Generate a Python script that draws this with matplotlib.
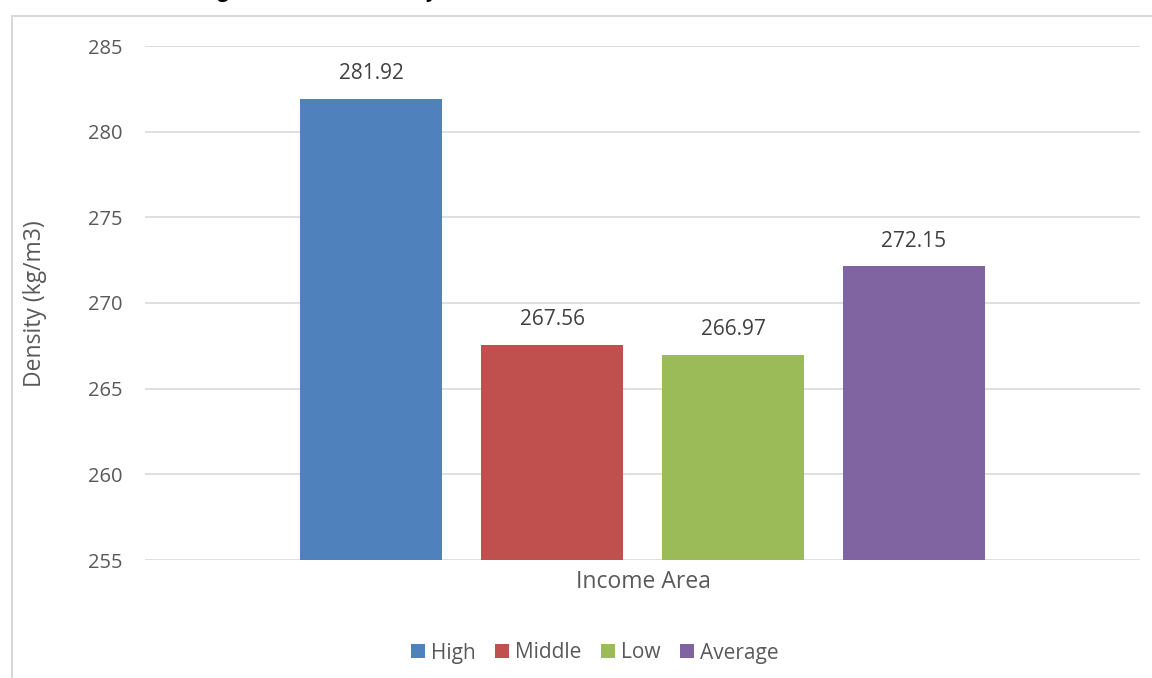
import matplotlib
matplotlib.use("Agg")
import matplotlib.pyplot as plt
from matplotlib.patches import Rectangle, Patch

# Data
categories = ["Income Area"]
series_names = ["High", "Middle", "Low", "Average"]
density = [281.92, 267.56, 266.97, 272.15]
colors = ["#4F81BD", "#C0504D", "#9BBB59", "#8064A2"]
y_ticks = [255, 260, 265, 270, 275, 280, 285]

plt.rcParams["font.family"] = ["Open Sans", "DejaVu Sans"]
text_color = "#595959"
grid_color = "#D9D9D9"

W, H = 1152, 678
fig = plt.figure(figsize=(W / 100, H / 100), dpi=100)

# Chart-area frame
fig.patches.append(Rectangle((12 / W, -0.1), 1.2, 1.1 - 16 / H,
                             transform=fig.transFigure, fill=False,
                             edgecolor=grid_color, linewidth=1.5, zorder=0))

# Title (sits above the top edge of the canvas, only descenders show)
fig.text(161 / W, 1 + 2.5 / H, "Average Solid Waste Density across Income Areas",
         fontsize=14, fontweight="bold", color="black", ha="left", va="baseline")

ax = fig.add_axes([145 / W, 1 - 560 / H, (1140 - 145) / W, (560 - 46) / H])
n = len(series_names)
offsets = [i - (n - 1) / 2 for i in range(n)]
bar_w = 142 / 181
bars = ax.bar(offsets, [v - 255 for v in density], bottom=255, width=bar_w,
              color=colors, zorder=3)
for b, v in zip(bars, density):
    ax.annotate(f"{v:.2f}", (b.get_x() + b.get_width() / 2, v),
                xytext=(0, 25), textcoords="offset pixels",
                ha="center", va="center", fontsize=15, color="#404040")

ax.set_xlim(-2.75, 2.75)
ax.set_ylim(255, 285)
ax.set_yticks(y_ticks)
ax.set_yticklabels([str(t) for t in y_ticks])
ax.yaxis.grid(True, color=grid_color, linewidth=1.2, zorder=0)
ax.set_xticks([])
for s in ax.spines.values():
    s.set_visible(False)
ax.tick_params(axis="y", length=0, pad=16.5, labelsize=14.5, labelcolor=text_color)

fig.text(35 / W, 1 - 304 / H, "Density (kg/m3)", rotation=90, fontsize=16.5,
         color=text_color, ha="center", va="center")
fig.text(643 / W, 1 - 582 / H, categories[0], fontsize=16.5,
         color=text_color, ha="center", va="center")

handles = [Patch(facecolor=c, edgecolor="none") for c in colors]
fig.legend(handles, series_names, loc="center", bbox_to_anchor=(595 / W, 1 - 653 / H),
           ncol=4, frameon=False, fontsize=15, labelcolor=text_color,
           handlelength=0.65, handleheight=0.65, handletextpad=0.3, columnspacing=0.95)

fig.savefig("out.png", dpi=100)
